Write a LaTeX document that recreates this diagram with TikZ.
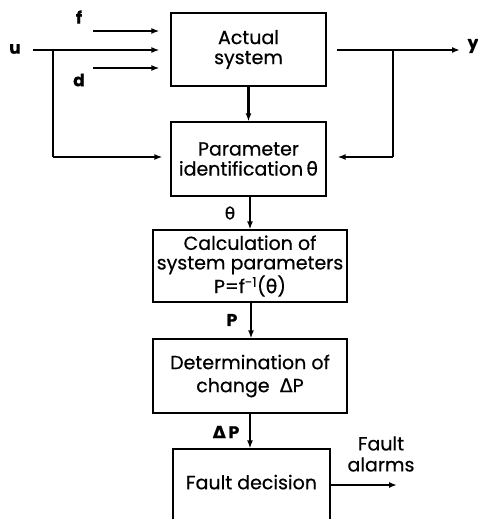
\documentclass[tikz,border=0pt]{standalone}
\usepackage{fontspec}
\setmainfont{Poppins}[FakeBold=0.5]
\newfontfamily\grk{DejaVu Sans}[FakeBold=0.5]
\usetikzlibrary{arrows.meta,calc}
\begin{document}
\begin{tikzpicture}[x=1pt,y=-1pt,
  box/.style={draw,line width=1.3pt,inner sep=0pt,align=center,font=\fontsize{19}{20}\selectfont},
  lbl/.style={font=\fontsize{17}{18}\selectfont\bfseries,inner sep=0pt},
  arr/.style={line width=2.2pt,-{Latex[length=8pt,width=6pt]}},
  ln/.style={line width=2.2pt}]
\useasboundingbox (0,0) rectangle (478,519);
\clip (0,0) rectangle (478,519);
% boxes
\node[box,minimum width=155pt,minimum height=73pt] (act) at (248.5,49.5) {Actual\\system};
\node[box,minimum width=155pt,minimum height=74pt] (par) at (248.5,159) {Parameter\\identification\,{\grk θ}};
\node[box,minimum width=194pt,minimum height=72pt,font=\fontsize{19}{19.5}\selectfont] (calc) at (250,266) {Calculation of\\system parameters\\P=f\textsuperscript{-1}({\grk θ})};
\node[box,minimum width=194pt,minimum height=74pt,font=\fontsize{19}{23}\selectfont] (det) at (250,376) {Determination of\\change\ \ {\grk Δ}P};
\node[box,minimum width=157pt,minimum height=82pt] (fd) at (251.5,490) {Fault decision\\[-4pt]\mbox{}};
% spine coordinates
\coordinate (sp) at (250,0);
\coordinate (sp2) at (251,0);
% input labels
\node[lbl] (u) at (15,49) {u};
\node[lbl] (f) at (79,17) {f};
\node[lbl] (d) at (79,80) {d};
\node[lbl] (y) at (473,46) {y};
\coordinate (fs) at (93,31);
\coordinate (ds) at (93,68);
\coordinate (us) at (33,50);
\coordinate (ub) at (53,50);
\coordinate (ubd) at (53,157);
\coordinate (ye) at (460,50);
\coordinate (yb) at (393,50);
\coordinate (ybd) at (393,157);
\draw[arr,shorten >=11pt] (fs) -- (fs -| act.west);
\draw[arr,shorten >=11pt] (ds) -- (ds -| act.west);
\draw[arr,shorten >=11pt] (us) -- (us -| act.west);
\draw[ln] (ub) -- (ubd);
\draw[arr,shorten >=8pt] (ubd) -- (ubd -| par.west);
\draw[arr,shorten <=10pt] (yb -| act.east) -- (ye);
\draw[ln] (yb) -- (ybd);
\draw[arr,shorten >=11pt] (ybd) -- (ybd -| par.east);
% vertical chain
\draw[arr] (act.south) -- (par.north);
\draw[arr] (par.south -| sp) -- (calc.north -| sp);
\draw[arr] (calc.south -| sp2) -- (det.north -| sp2);
\draw[arr] (det.south -| sp) -- (fd.north -| sp);
\node[lbl,font=\fontsize{17}{18}\selectfont\grk] (th) at (230,213) {θ};
\node[lbl] (pl) at (232,320) {P};
\node[lbl] (dpl) at (226,432) {{\grk\bfseries Δ}\,P};
% output
\coordinate (fa) at (397,485);
\draw[arr] (fa -| fd.east) -- (fa);
\node[align=center,inner sep=0pt,font=\fontsize{19}{21}\selectfont] (fat) at (381,454) {Fault\\alarms};
\end{tikzpicture}
\end{document}
